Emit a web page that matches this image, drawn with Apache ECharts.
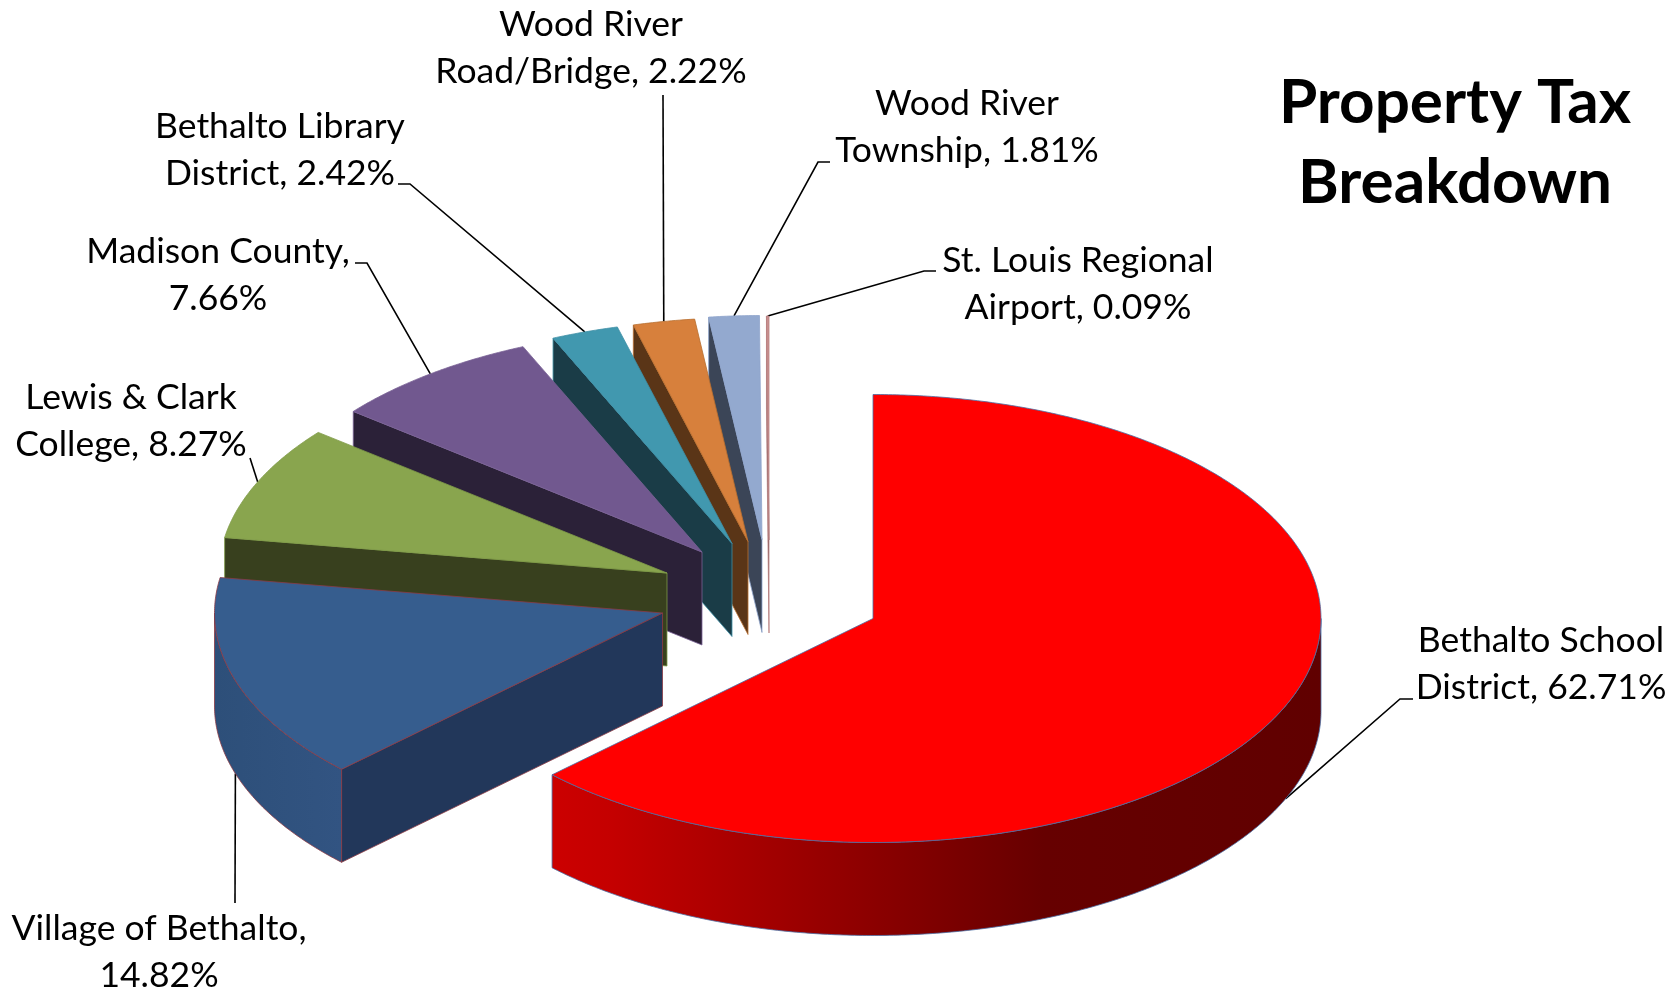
<!DOCTYPE html>
<html>
<head>
<meta charset="utf-8">
<style>html,body{margin:0;padding:0;background:#fff}#chart{width:1679px;height:992px}</style>
<script src="https://cdn.jsdelivr.net/npm/echarts@6/dist/echarts.min.js"></script>
</head>
<body>
<div id="chart"></div>
<script>
// ---- data ----
const categories = ['Bethalto School District','Village of Bethalto','Lewis & Clark College','Madison County','Bethalto Library District','Wood River Road/Bridge','Wood River Township','St. Louis Regional Airport'];
const seriesValues = [62.71,14.82,8.27,7.66,2.42,2.22,1.81,0.09];
const titleText = 'Property Tax\nBreakdown';

// ---- styles ----
const topColors  = ['#FF0000','#365D8E','#89A54E','#71588F','#4198AF','#D7803C','#93A9CF','#C89090'];
const wallColors = ['#C80000','#22375A','#38401E','#2B2138','#1A3C47','#5A3517','#3B4557','#6E4A4A'];
const edgeColors = ['#4A6FA5','#8B3A44','#7F9A48','#7A6296','#3F8FA6','#B86E30','#8FA5CC','#B98080'];

// ---- layout ----
const pie = {cx:873, cy:618.5, rx:448, ry:224, depth:93};
const sliceOffsets = [[0,0],[-210.5,-5.5],[-206,-45.5],[-171,-66.5],[-141,-75],[-125,-77],[-111,-79],[-104,-78.5]];
const labelWordsOnFirstLine = [2,3,3,2,2,2,2,3];
const labelCenters = [[1541,664.5],[159,952.5],[131,421.5],[218,275.5],[280,150.5],[591,48.5],[967,127.5],[1078,284]];
const leaderElbows = [[[1413,699],[1400,699]],[[235,903]],[[250,458]],[[355,263],[367,263]],[[398,184],[410,184]],[[663,95]],[[830,162],[818,162]],[[936,271],[924,271]]];
const labelFont = {fontFamily:'Lato', fontSize:35.5, lineHeight:47, fill:'#000'};

// ---- geometry from values ----
const total = seriesValues.reduce((a,b)=>a+b,0);
let running = 0;
const sweeps = seriesValues.map(v=>{const a0=running/total*360; running+=v; return [a0,running/total*360];});
const rad = d=>d*Math.PI/180;
function rim(ax,ay,deg,down){return [ax+pie.rx*Math.sin(rad(deg)), ay-pie.ry*Math.cos(rad(deg))+(down||0)];}
function arc(ax,ay,a0,a1,down){const n=Math.max(2,Math.ceil(Math.abs(a1-a0)*2));const p=[];for(let k=0;k<=n;k++)p.push(rim(ax,ay,a0+(a1-a0)*k/n,down));return p;}
function labelText(i){
  const words=categories[i].split(' ');
  const first=words.slice(0,labelWordsOnFirstLine[i]).join(' ');
  const rest=words.slice(labelWordsOnFirstLine[i]).join(' ');
  const pct=seriesValues[i].toFixed(2)+'%';
  return rest? first+'\n'+rest+', '+pct : first+',\n'+pct;
}
function wallFill(i){
  if(i===0) return new echarts.graphic.LinearGradient(0,0,1,0,[{offset:0,color:'#CC0000'},{offset:0.08,color:'#C40000'},{offset:0.64,color:'#660000'},{offset:1,color:'#600000'}]);
  if(i===1) return new echarts.graphic.LinearGradient(0,0,1,0,[{offset:0,color:'#2D4F79'},{offset:1,color:'#325482'}]);
  return wallColors[i];
}

function renderSlice(params){
  const i=params.dataIndex, [a0,a1]=sweeps[i];
  const ax=pie.cx+sliceOffsets[i][0], ay=pie.cy+sliceOffsets[i][1], d=pie.depth;
  const z=100-i*10, stroke={stroke:edgeColors[i],lineWidth:0.8};
  const children=[];
  // radial wall on the start edge, seen when it faces the viewer
  if(a0>180&&a0<360){
    const e=rim(ax,ay,a0);
    children.push({type:'polygon',z2:z,shape:{points:[[ax,ay],[ax,ay+d],[e[0],e[1]+d],e]},style:Object.assign({fill:wallColors[i]},stroke)});
  }
  // outer curved wall on the front half
  const w0=Math.max(a0,90), w1=Math.min(a1,270);
  if(w1>w0){
    const top=arc(ax,ay,w0,w1,0), bottom=arc(ax,ay,w1,w0,d);
    children.push({type:'polygon',z2:z+1,shape:{points:top.concat(bottom)},style:Object.assign({fill:wallFill(i)},stroke)});
  }
  // top face
  children.push({type:'polygon',z2:z+2,shape:{points:[[ax,ay]].concat(arc(ax,ay,a0,a1,0))},style:Object.assign({fill:topColors[i]},stroke)});
  // leader, ending on the rim at the middle of the slice
  const mid=(a0+a1)/2, front=mid>90&&mid<270;
  const end=rim(ax,ay,mid,front?d:0);
  children.push({type:'polyline',z2:1,shape:{points:leaderElbows[i].concat([end])},style:{stroke:'#000',lineWidth:1.6,fill:null}});
  // label
  children.push({type:'text',z2:300,style:Object.assign({text:labelText(i),x:labelCenters[i][0],y:labelCenters[i][1],align:'center',verticalAlign:'middle'},labelFont)});
  return {type:'group',children};
}

const chart = echarts.init(document.getElementById('chart'),null,{renderer:'canvas'});
chart.setOption({
  backgroundColor:'#fff',
  animation:false,
  title:{text:titleText,left:1450,top:58,textAlign:'center',
    textStyle:{fontFamily:'Lato',fontWeight:'bold',fontSize:62,lineHeight:80,color:'#000'}},
  series:[{type:'custom',coordinateSystem:'none',renderItem:renderSlice,
    data:seriesValues.map((v,i)=>({name:categories[i],value:v}))}]
});
</script>
</body>
</html>
